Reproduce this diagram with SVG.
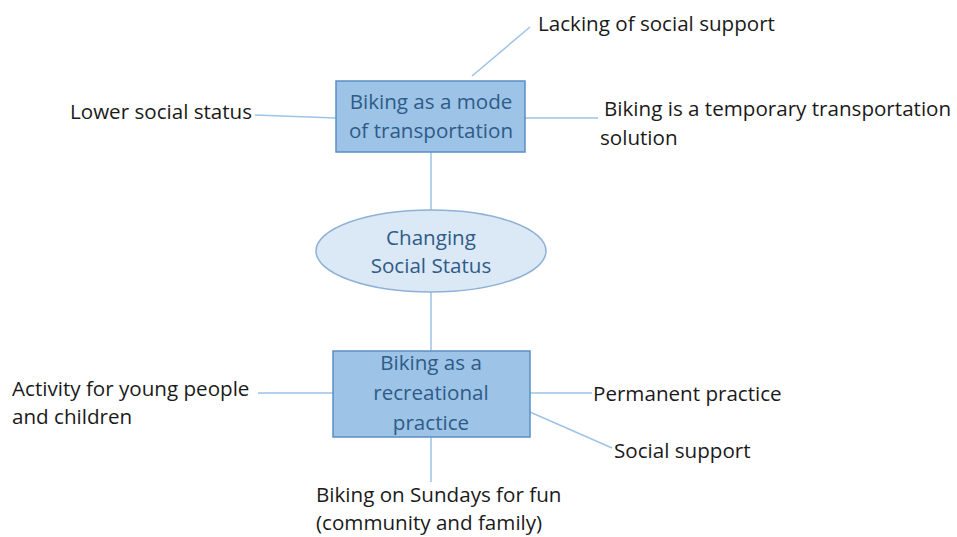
<svg xmlns="http://www.w3.org/2000/svg" width="957" height="537" viewBox="0 0 957 537">
<style>
.bg{fill:#ffffff}
.ln{stroke:#9dc3e6;stroke-width:1.5;fill:none}
.box{fill:#9dc3e6;stroke:#5b8ec4;stroke-width:1.5}
.ell{fill:#dbe8f5;stroke:#8eb1d6;stroke-width:1.5}
.t{font-family:"Open Sans","Liberation Sans",sans-serif;font-size:20.6px;fill:#1a1a1a}
.n{font-family:"Open Sans","Liberation Sans",sans-serif;font-size:20.6px;fill:#2f5b88;text-anchor:middle}
</style>
<rect class="bg" width="957" height="537"/>
<g id="connectors">
<line class="ln" x1="472" y1="76" x2="530" y2="27"/>
<line class="ln" x1="255" y1="115" x2="336" y2="118"/>
<line class="ln" x1="525" y1="118" x2="598" y2="118"/>
<line class="ln" x1="431" y1="152" x2="431" y2="210"/>
<line class="ln" x1="431" y1="292" x2="431" y2="351"/>
<line class="ln" x1="258" y1="393" x2="333" y2="393"/>
<line class="ln" x1="530" y1="393" x2="592" y2="393"/>
<line class="ln" x1="530" y1="412" x2="612" y2="448"/>
<line class="ln" x1="431" y1="437" x2="431" y2="482"/>
</g>
<g id="node-transport">
<rect class="box" x="336" y="81" width="189" height="71"/>
<text class="n" x="431" y="109">Biking as a mode</text>
<text class="n" x="431" y="138">of transportation</text>
</g>
<g id="node-changing">
<ellipse class="ell" cx="431" cy="251" rx="115" ry="41"/>
<text class="n" x="431" y="245">Changing</text>
<text class="n" x="431" y="273">Social Status</text>
</g>
<g id="node-recreational">
<rect class="box" x="333" y="351" width="197" height="86"/>
<text class="n" x="431" y="370">Biking as a</text>
<text class="n" x="431" y="400">recreational</text>
<text class="n" x="431" y="430">practice</text>
</g>
<g id="label-lacking"><text class="t" x="538" y="31">Lacking of social support</text></g>
<g id="label-lower"><text class="t" x="70" y="119">Lower social status</text></g>
<g id="label-temporary"><text class="t" x="604" y="116">Biking is a temporary transportation</text><text class="t" x="600" y="145">solution</text></g>
<g id="label-activity"><text class="t" x="12" y="396">Activity for young people</text><text class="t" x="12" y="424">and children</text></g>
<g id="label-permanent"><text class="t" x="593" y="401">Permanent practice</text></g>
<g id="label-social"><text class="t" x="614" y="458">Social support</text></g>
<g id="label-sundays"><text class="t" x="316" y="502">Biking on Sundays for fun</text><text class="t" x="316" y="530">(community and family)</text></g>
</svg>
